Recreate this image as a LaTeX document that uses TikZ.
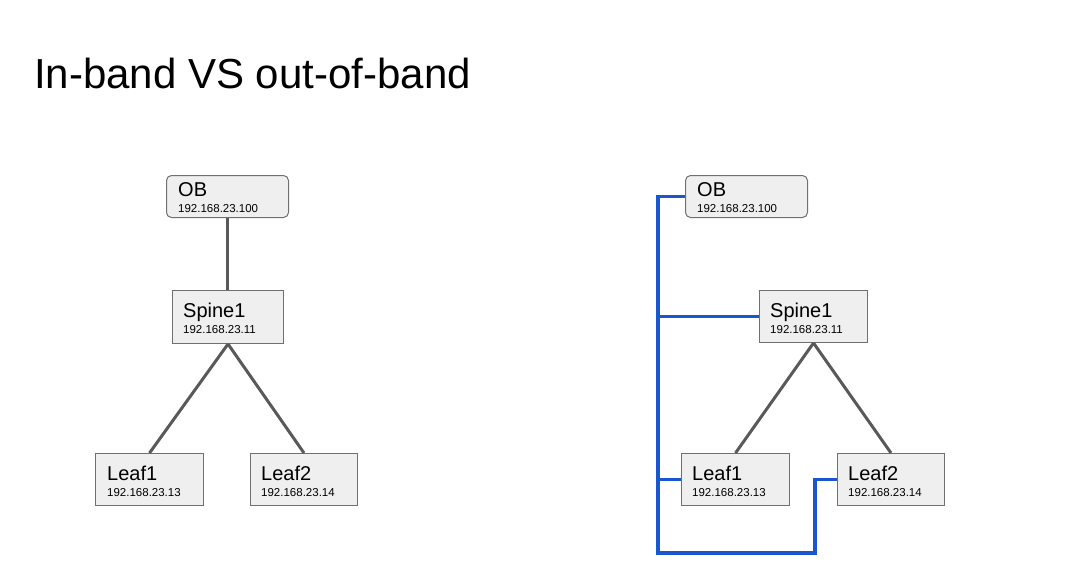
\documentclass[tikz,border=0pt]{standalone}
\usepackage{fontspec}
\setmainfont{Liberation Sans}
\definecolor{boxfill}{HTML}{EFEFEF}
\definecolor{boxline}{HTML}{707070}
\definecolor{linkgray}{HTML}{595959}
\definecolor{oobblue}{HTML}{1A56D0}
\begin{document}
\begin{tikzpicture}[x=1pt,y=-1pt,
  box/.style={draw=boxline, line width=1pt, fill=boxfill, anchor=north west, inner sep=0pt, minimum height=52pt, minimum width=108pt},
  obbox/.style={box, rounded corners=5pt, minimum width=122pt, minimum height=42pt},
  devname/.style={anchor=base west, inner sep=0pt, font=\fontsize{20}{22}\selectfont},
  ip/.style={anchor=base west, inner sep=0pt, font=\fontsize{11.5}{13}\selectfont},
  glink/.style={draw=linkgray, line width=3pt},
  blink/.style={draw=oobblue, line width=3.2pt}
]
\useasboundingbox (0,0) rectangle (1067,587);
\fill[white] (0,0) rectangle (1067,587);
\node[anchor=base west, inner sep=0pt, font=\fontsize{42}{46}\selectfont] (title) at (34,88) {In-band VS out-of-band};

% ---------- left: in-band ----------
\node[obbox] (ob) at (166,175) {};
\node[devname] (obn) at (178,196) {OB};
\node[ip] (obi) at (178,212) {192.168.23.100};

\node[box, minimum width=111pt, minimum height=53pt] (sp) at (172,290) {};
\node[devname] (spn) at (183,317) {Spine1};
\node[ip] (spi) at (183,333) {192.168.23.11};

\node[box] (la) at (95,453) {};
\node[devname] (lan) at (107,480) {Leaf1};
\node[ip] (lai) at (107,496) {192.168.23.13};

\node[box, minimum width=107pt] (lb) at (250,453) {};
\node[devname] (lbn) at (261,480) {Leaf2};
\node[ip] (lbi) at (261,496) {192.168.23.14};

\draw[glink] (ob.south) -- (ob.south |- sp.north);
\draw[glink] (sp.south) -- (la.north);
\draw[glink] (sp.south) -- (lb.north);

% ---------- right: out-of-band ----------
\node[obbox] (ob2) at (685,175) {};
\node[devname] (ob2n) at (697,196) {OB};
\node[ip] (ob2i) at (697,212) {192.168.23.100};

\node[box] (sp2) at (759,290) {};
\node[devname] (sp2n) at (770,317) {Spine1};
\node[ip] (sp2i) at (770,333) {192.168.23.11};

\node[box] (la2) at (681,453) {};
\node[devname] (la2n) at (692,480) {Leaf1};
\node[ip] (la2i) at (692,496) {192.168.23.13};

\node[box, minimum width=107pt] (lb2) at (837,453) {};
\node[devname] (lb2n) at (848,480) {Leaf2};
\node[ip] (lb2i) at (848,496) {192.168.23.14};

\draw[glink] (sp2.south) -- (la2.north);
\draw[glink] (sp2.south) -- (lb2.north);

\coordinate (bx) at (658,0);
\coordinate (bb) at (658,553);
\coordinate (bj) at (815,553);
\draw[blink, line join=miter] (ob2.west) -- (ob2.west -| bx) -- (bb) -- (bj) |- (lb2.west);
\draw[blink] (sp2.west -| bx) -- (sp2.west);
\draw[blink] (la2.west -| bx) -- (la2.west);
\end{tikzpicture}
\end{document}
